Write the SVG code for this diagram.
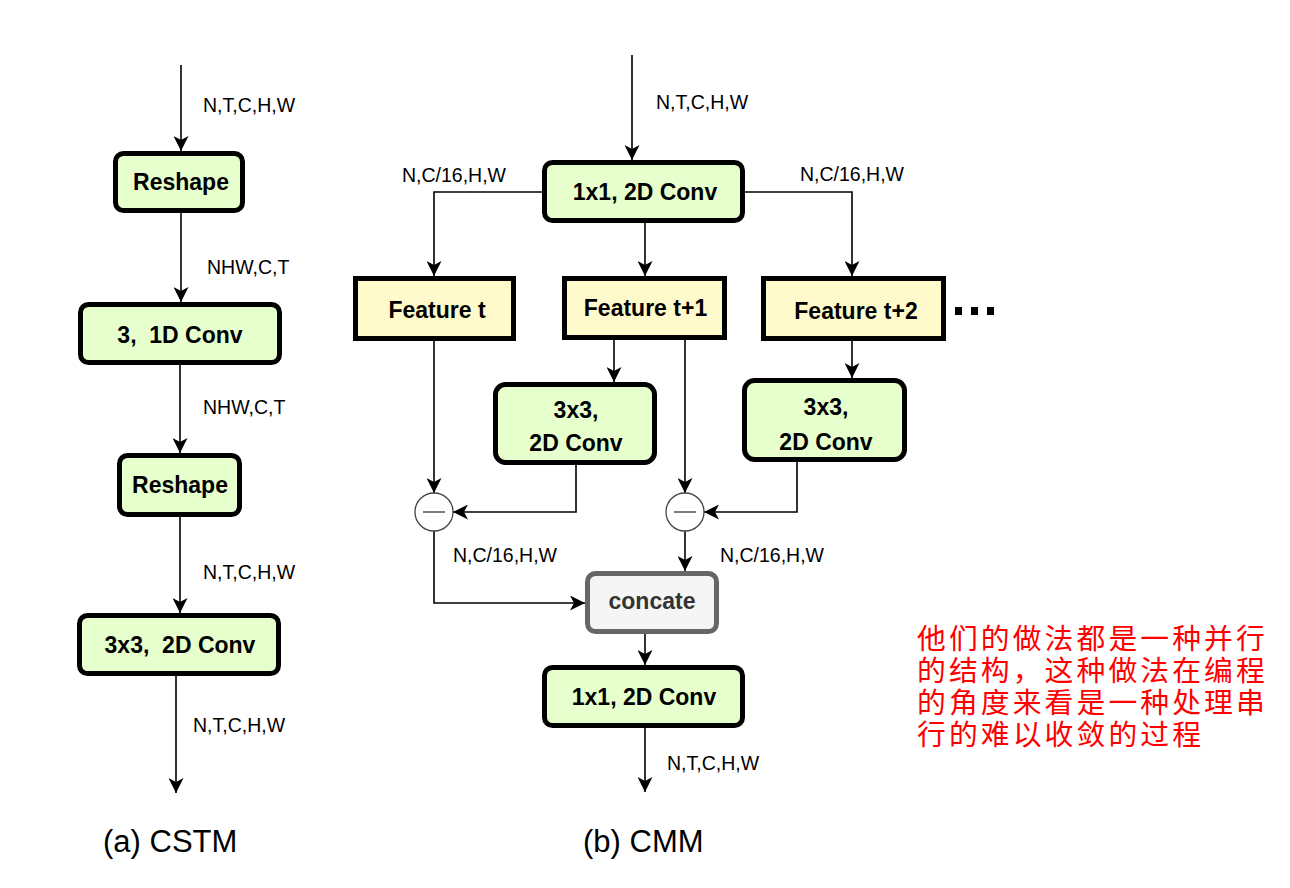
<svg xmlns="http://www.w3.org/2000/svg" width="1290" height="888" viewBox="0 0 1290 888">
<style>
.box{fill:#E6FFCC;stroke:#000;stroke-width:5}
.feat{fill:#FFFACC;stroke:#000;stroke-width:5}
.gray{fill:#F5F5F5;stroke:#666;stroke-width:5}
.bt{font-family:"Liberation Sans",Arial,sans-serif;font-weight:bold;font-size:23px;fill:#000;text-anchor:middle}
.lb{font-family:"Liberation Sans",Arial,sans-serif;font-size:19.5px;fill:#000}
.cap{font-family:"Liberation Sans",Arial,sans-serif;font-size:31px;fill:#000}
.cn{font-family:"Liberation Serif","Noto Sans CJK SC","Noto Sans CJK TC",sans-serif;font-size:28.8px;letter-spacing:3.1px;fill:#FF0000}
.ln{fill:none;stroke:#000;stroke-width:1.6;marker-end:url(#arr)}
.op{fill:#fff;stroke:#444;stroke-width:1.3}
</style>
<defs>
<marker id="arr" markerUnits="userSpaceOnUse" markerWidth="15" markerHeight="15" refX="15" refY="7.5" orient="auto">
<path d="M0,0 L15,7.5 L0,15 L4,7.5 Z" fill="#000"/>
</marker>
</defs>
<rect width="1290" height="888" fill="#fff"/>

<g id="connectors">
<path class="ln" d="M181,65 V151"/>
<path class="ln" d="M181,212 V302"/>
<path class="ln" d="M180,365 V453"/>
<path class="ln" d="M180,517 V613"/>
<path class="ln" d="M176,676 V793"/>
<path class="ln" d="M632,55 V160"/>
<path class="ln" d="M542,192 H434 V276"/>
<path class="ln" d="M645,223 V276"/>
<path class="ln" d="M745,192 H852 V276"/>
<path class="ln" d="M434,341 V493"/>
<path class="ln" d="M614,340 V382"/>
<path class="ln" d="M685,340 V493"/>
<path class="ln" d="M852,341 V378"/>
<path class="ln" d="M576,465 V512 H453"/>
<path class="ln" d="M797,462 V512 H704"/>
<path class="ln" d="M434,531 V603 H585"/>
<path class="ln" d="M685,531 V571"/>
<path class="ln" d="M645,634 V665"/>
<path class="ln" d="M645,728 V792"/>
</g>

<g id="labels">
<text class="lb" x="203" y="112">N,T,C,H,W</text>
<text class="lb" x="207" y="274">NHW,C,T</text>
<text class="lb" x="203" y="414">NHW,C,T</text>
<text class="lb" x="203" y="579">N,T,C,H,W</text>
<text class="lb" x="193" y="732">N,T,C,H,W</text>
<text class="lb" x="656" y="109">N,T,C,H,W</text>
<text class="lb" x="402" y="182">N,C/16,H,W</text>
<text class="lb" x="800" y="181">N,C/16,H,W</text>
<text class="lb" x="453" y="562">N,C/16,H,W</text>
<text class="lb" x="720" y="562">N,C/16,H,W</text>
<text class="lb" x="667" y="770">N,T,C,H,W</text>
</g>

<g id="cstm-reshape1"><rect class="box" x="115.5" y="153.5" width="127" height="57" rx="8"/><text class="bt" x="181" y="190">Reshape</text></g>
<g id="cstm-1dconv"><rect class="box" x="80.5" y="304.5" width="199" height="58" rx="8"/><text class="bt" x="180" y="343" xml:space="preserve">3,  1D Conv</text></g>
<g id="cstm-reshape2"><rect class="box" x="119.5" y="455.5" width="120" height="59" rx="8"/><text class="bt" x="180" y="493">Reshape</text></g>
<g id="cstm-2dconv"><rect class="box" x="79.5" y="615.5" width="199" height="58" rx="8"/><text class="bt" x="180" y="653" xml:space="preserve">3x3,  2D Conv</text></g>

<g id="cmm-conv-top"><rect class="box" x="544.5" y="162.5" width="198" height="58" rx="8"/><text class="bt" x="645" y="200">1x1, 2D Conv</text></g>
<g id="feature-t"><rect class="feat" x="355.5" y="278.5" width="158" height="60"/><text class="bt" x="437" y="318">Feature t</text></g>
<g id="feature-t1"><rect class="feat" x="564.5" y="278.5" width="160" height="59"/><text class="bt" x="645.5" y="316">Feature t+1</text></g>
<g id="feature-t2"><rect class="feat" x="763.5" y="278.5" width="180" height="60"/><text class="bt" x="856" y="319">Feature t+2</text></g>
<g id="dots"><rect x="955" y="307" width="7" height="8" fill="#000"/><rect x="971" y="307" width="7" height="8" fill="#000"/><rect x="987" y="307" width="7" height="8" fill="#000"/></g>
<g id="conv-mid"><rect class="box" x="495.5" y="384.5" width="159" height="78" rx="10"/><text class="bt" x="576" y="418">3x3,</text><text class="bt" x="576" y="451">2D Conv</text></g>
<g id="conv-right"><rect class="box" x="744.5" y="380.5" width="160" height="79" rx="10"/><text class="bt" x="826" y="415">3x3,</text><text class="bt" x="826" y="450">2D Conv</text></g>
<g id="minus-left"><circle class="op" cx="434" cy="512" r="19"/><line x1="423" y1="512" x2="445" y2="512" stroke="#555" stroke-width="1.5"/></g>
<g id="minus-right"><circle class="op" cx="685" cy="512" r="19"/><line x1="674" y1="512" x2="696" y2="512" stroke="#555" stroke-width="1.5"/></g>
<g id="concate"><rect class="gray" x="587.5" y="573.5" width="129" height="58" rx="8"/><text class="bt" x="652" y="609" style="fill:#333">concate</text></g>
<g id="cmm-conv-bottom"><rect class="box" x="544.5" y="667.5" width="198" height="58" rx="8"/><text class="bt" x="644" y="705">1x1, 2D Conv</text></g>

<g id="captions">
<text class="cap" x="103" y="852">(a) CSTM</text>
<text class="cap" x="583" y="852">(b) CMM</text>
</g>

<g id="note">
<text class="cn" x="917" y="649">他们的做法都是一种并行</text>
<text class="cn" x="917" y="681">的结构，这种做法在编程</text>
<text class="cn" x="917" y="713">的角度来看是一种处理串</text>
<text class="cn" x="917" y="745">行的难以收敛的过程</text>
</g>
</svg>
